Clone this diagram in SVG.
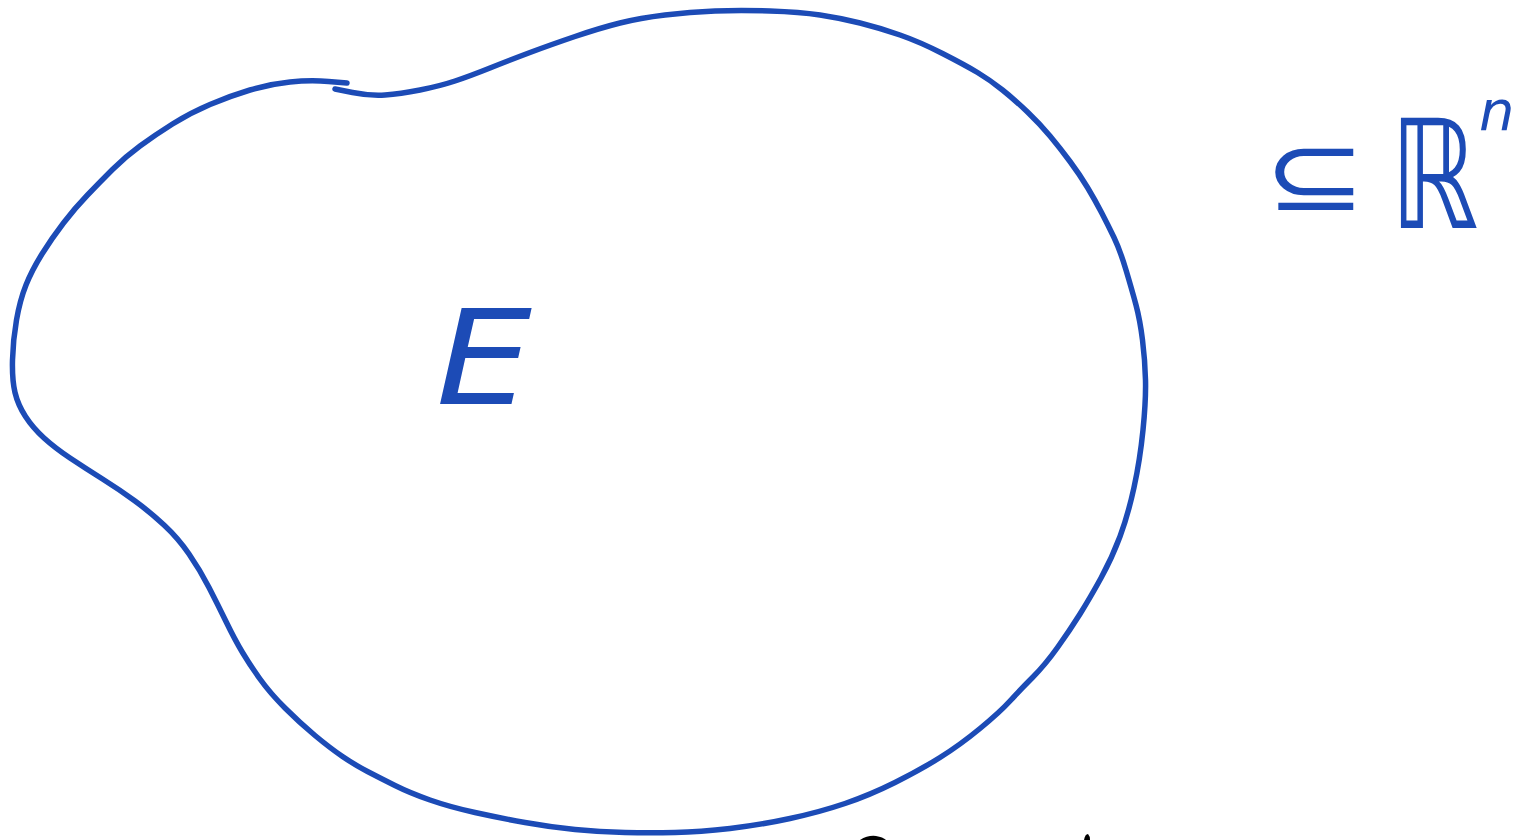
<svg xmlns="http://www.w3.org/2000/svg" width="1515" height="840" viewBox="0 0 1515 840">
<style>
.ink{fill:none;stroke:#1c4bb6;stroke-width:5.5;stroke-linecap:round;stroke-linejoin:round}
.lbl{fill:#1c4bb6;font-family:"DejaVu Sans",sans-serif}
</style>
<rect width="1515" height="840" fill="#ffffff"/>
<g id="set-E">
<path class="ink" d="M 347,83 L 328.5,81.5 Q 310,80 290,82 Q 270,84 250,90 Q 230,96 210,104.5 Q 190,113 172.5,124 Q 155,135 140,146 Q 125,157 112.5,169.5 Q 100,182 87.5,195 Q 75,208 63.5,223 Q 52,238 42,254 Q 32,270 26,285 Q 20,300 16.5,320 Q 13,340 12.5,360 Q 12,380 15,392.5 Q 18,405 25.5,416.5 Q 33,428 44,438 Q 55,448 70,458 Q 85,468 102.5,479 Q 120,490 135,501 Q 150,512 164,525 Q 178,538 189,554 Q 200,570 209,587.5 Q 218,605 226.5,622.5 Q 235,640 242.5,652.5 Q 250,665 260,679 Q 270,693 285,708 Q 300,723 315,735.5 Q 330,748 342.5,756.5 Q 355,765 367.5,771.5 Q 380,778 395,785.5 Q 410,793 430,800 Q 450,807 475,812.5 Q 500,818 525,822.5 Q 550,827 575,829.5 Q 600,832 625,832.5 Q 650,833 675,832.5 Q 700,832 730,828.5 Q 760,825 790,818.5 Q 820,812 845,803.5 Q 870,795 895,782.5 Q 920,770 940,757.5 Q 960,745 980,728.5 Q 1000,712 1010,701 Q 1020,690 1032.5,677.5 Q 1045,665 1057.5,647.5 Q 1070,630 1080,614 Q 1090,598 1101,578 Q 1112,558 1120,536.5 Q 1128,515 1134,487.5 Q 1140,460 1143,430 Q 1146,400 1145.5,380 Q 1145,360 1142.5,340 Q 1140,320 1136,305 Q 1132,290 1126,270 Q 1120,250 1114,237.5 Q 1108,225 1101.5,212.5 Q 1095,200 1087.5,187.5 Q 1080,175 1070,161.5 Q 1060,148 1050,136 Q 1040,124 1027.5,112 Q 1015,100 1002.5,90 Q 990,80 977.5,72.5 Q 965,65 942.5,53.5 Q 920,42 900,35 Q 880,28 860,23 Q 840,18 820,15 Q 800,12 770,11 Q 740,10 715,11 Q 690,12 665,15 Q 640,18 620,23 Q 600,28 575,36.5 Q 550,45 530,52.5 Q 510,60 490,68 Q 470,76 455,81 Q 440,86 420,90 Q 400,94 385,95 Q 370,96 352.5,92.5 L 335,89"/>
<text class="lbl" transform="translate(436,404) scale(1.15,1)" font-size="132" font-style="italic" font-family="Liberation Sans, sans-serif">E</text>
</g>
<g id="space-Rn">
<text class="lbl" transform="translate(1264,210) scale(1.22,1)" font-size="100">⊆</text>
<text class="lbl" transform="translate(1390,228) scale(1,1.35)" font-size="112" font-style="italic">ℝ</text>
<text class="lbl" x="1479" y="130" font-size="56" font-style="italic">n</text>
</g>
<g id="edge-marks">
<path d="M 860,840 Q 868,835 876,836 Q 883,837 886,840 Z" fill="#000"/>
<path d="M 1084,840 Q 1085,834 1088,834 Q 1090,836 1090,840 Z" fill="#000"/>
</g>
</svg>
